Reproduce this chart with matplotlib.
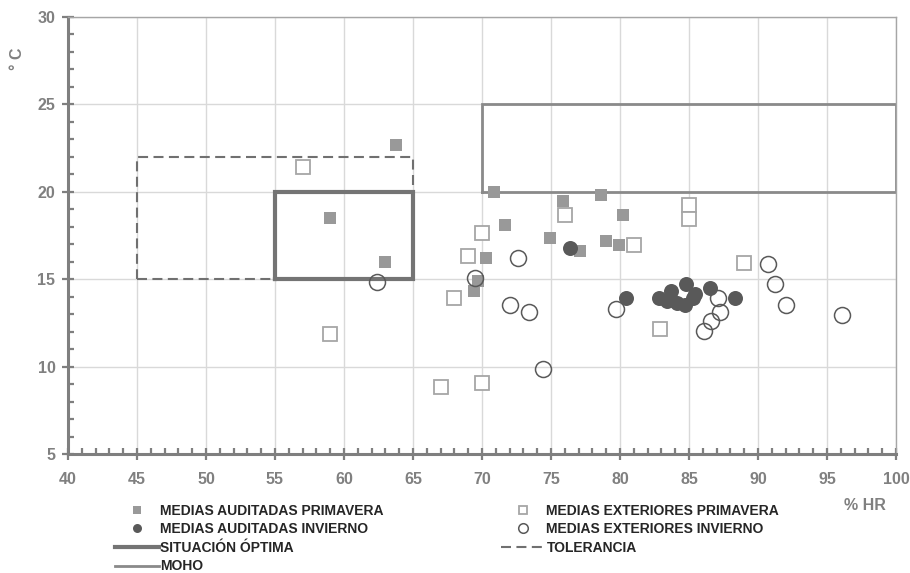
import matplotlib
matplotlib.use('Agg')
import matplotlib.pyplot as plt
from matplotlib.ticker import MultipleLocator

plt.rcParams['font.family'] = ['Liberation Sans', 'DejaVu Sans']
plt.rcParams['font.weight'] = 'bold'

# medias auditadas primavera (filled squares)
aud_prim_hr = [63.8, 59.0, 63.0, 70.9, 75.9, 78.6, 71.7, 80.2, 74.9, 79.0, 79.9, 77.1, 70.3, 69.7, 69.4]
aud_prim_t = [22.7, 18.5, 16.0, 20.0, 19.45, 19.8, 18.1, 18.7, 17.35, 17.2, 16.97, 16.6, 16.2, 14.9, 14.3]

# medias exteriores primavera (open squares)
ext_prim_hr = [57.0, 59.0, 70.0, 76.0, 69.0, 81.0, 85.0, 85.0, 68.0, 82.9, 67.0, 70.0, 89.0]
ext_prim_t = [21.4, 11.85, 17.65, 18.65, 16.3, 16.93, 19.25, 18.45, 13.95, 12.15, 8.85, 9.05, 15.95]

# medias auditadas invierno (filled circles)
aud_inv_hr = [76.4, 80.4, 82.8, 83.4, 83.7, 84.1, 84.7, 84.8, 85.3, 85.4, 86.5, 88.3]
aud_inv_t = [16.8, 13.95, 13.95, 13.75, 14.3, 13.65, 13.55, 14.7, 13.9, 14.15, 14.5, 13.95]

# medias exteriores invierno (open circles)
ext_inv_hr = [62.4, 69.5, 72.6, 72.0, 73.4, 74.4, 79.7, 90.7, 91.2, 92.0, 96.1, 87.1, 87.25, 86.6, 86.1]
ext_inv_t = [14.85, 15.05, 16.2, 13.55, 13.15, 9.85, 13.3, 15.85, 14.7, 13.55, 12.95, 13.95, 13.15, 12.6, 12.05]

# zones: [hr_min, hr_max], [t_min, t_max]
optima_hr, optima_t = [55, 65], [15, 20]
toler_hr, toler_t = [45, 65], [15, 22]
moho_hr, moho_t = [70, 100], [20, 25]


def box(ax, hr, t, **kw):
    xs = [hr[0], hr[1], hr[1], hr[0], hr[0]]
    ys = [t[0], t[0], t[1], t[1], t[0]]
    return ax.plot(xs, ys, **kw)[0]


axis_grey = '#7f7f7f'

fig = plt.figure(figsize=(9.1, 5.73), dpi=100)
ax = fig.add_axes([0.0747, 0.2077, 0.9099, 0.7626])

h_tol = box(ax, toler_hr, toler_t, color='#707070', lw=1.5, ls=(0, (4.8, 2.6)), zorder=2,
            label='TOLERANCIA')
h_opt = box(ax, optima_hr, optima_t, color='#747474', lw=3, zorder=2, solid_joinstyle='miter',
            label='SITUACIÓN ÓPTIMA')
h_moho = box(ax, moho_hr, moho_t, color='#8a8a8a', lw=2, zorder=2, solid_joinstyle='miter',
             label='MOHO')

h1, = ax.plot(aud_prim_hr, aud_prim_t, 's', ms=8.6, mfc='#999999', mec='#999999', mew=0,
              zorder=3, label='MEDIAS AUDITADAS PRIMAVERA')
h2, = ax.plot(ext_prim_hr, ext_prim_t, 's', ms=10, mfc='white', mec='#a6a6a6', mew=1.3,
              zorder=3, label='MEDIAS EXTERIORES PRIMAVERA')
h3, = ax.plot(aud_inv_hr, aud_inv_t, 'o', ms=10.8, mfc='#595959', mec='#595959', mew=0,
              zorder=3, label='MEDIAS AUDITADAS INVIERNO')
h4, = ax.plot(ext_inv_hr, ext_inv_t, 'o', ms=11.5, mfc='none', mec='#595959', mew=1.1,
              zorder=4, label='MEDIAS EXTERIORES INVIERNO')

ax.set_xlim(40, 100)
ax.set_ylim(5, 30)
ax.xaxis.set_major_locator(MultipleLocator(5))
ax.xaxis.set_minor_locator(MultipleLocator(1))
ax.yaxis.set_major_locator(MultipleLocator(5))
ax.yaxis.set_minor_locator(MultipleLocator(1))
ax.grid(True, which='major', color='#d9d9d9', lw=1)
ax.set_axisbelow(True)

for s in ['left', 'bottom']:
    ax.spines[s].set_color(axis_grey)
    ax.spines[s].set_linewidth(2.2)
for s in ['top', 'right']:
    ax.spines[s].set_color('#a6a6a6')
    ax.spines[s].set_linewidth(1)

ax.tick_params(which='major', direction='inout', length=8, width=1.6, color=axis_grey,
               labelsize=11.5, labelcolor='#808080')
ax.tick_params(axis='x', which='major', pad=9)
ax.tick_params(axis='y', which='major', pad=5)
ax.tick_params(which='minor', direction='in', length=4, width=1.6, color=axis_grey)
ax.tick_params(top=False, right=False, which='both')
for lbl in ax.get_xticklabels() + ax.get_yticklabels():
    lbl.set_fontweight('bold')

fig.text(0.951, 0.118, '% HR', ha='center', va='center', fontsize=11.5, color='#808080',
         fontweight='bold')
fig.text(0.019, 0.898, '° C', ha='center', va='center', fontsize=11.5, color='#808080',
         fontweight='bold', rotation=90)

handles = [h1, h3, h_opt, h_moho, h2, h4, h_tol]
leg = fig.legend(handles=handles, loc='upper left', bbox_to_anchor=(0.126, 0.121),
                 ncol=2, frameon=False, fontsize=10, handlelength=3.2, handletextpad=0.1,
                 columnspacing=8.4, labelspacing=0.33, borderpad=0, borderaxespad=0,
                 markerscale=0.6)
for t in leg.get_texts():
    t.set_color('#262626')
    t.set_fontweight('bold')

fig.savefig('out.png', dpi=100)
